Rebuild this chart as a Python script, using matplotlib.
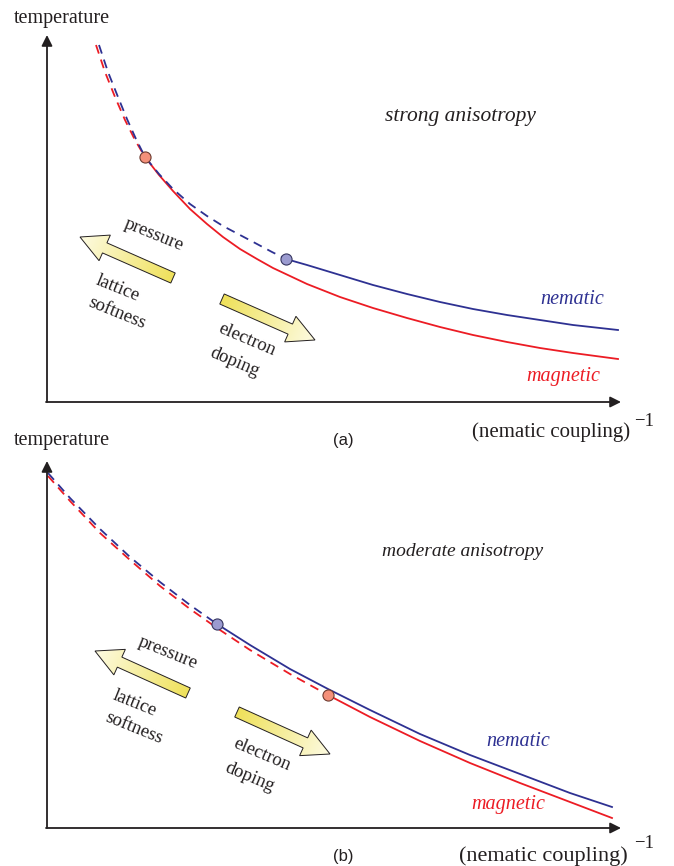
import numpy as np
import matplotlib
matplotlib.use("Agg")
import matplotlib.pyplot as plt
from matplotlib.patches import Polygon
from matplotlib.colors import LinearSegmentedColormap

plt.rcParams['font.family'] = ['Liberation Serif', 'DejaVu Serif']

# ---- data (x = inverse nematic coupling, T = temperature), arbitrary units ----
# panel (a): strong anisotropy
a_mag_x = [50, 59, 69, 79, 89, 99, 113, 127, 144, 161, 177, 194, 211, 227, 244, 261,
           294, 327, 361, 394, 427, 461, 494, 527, 572]
a_mag_T = [357, 330, 305, 282, 262, 245, 227, 211, 193, 178, 165, 153, 143, 134, 126, 118,
           105, 94, 84, 75, 67, 60, 54, 49, 43]
a_nem_x = [53, 62, 72, 81, 90, 99, 113, 127, 144, 161, 177, 194, 211, 226, 240, 261,
           294, 327, 361, 394, 427, 461, 494, 527, 572]
a_nem_T = [357, 330, 305, 283, 263, 245, 228, 213, 198, 186, 176, 167, 158, 150, 143, 137,
           127, 117, 108, 100, 93, 87, 82, 77, 72]
a_mag_dot = (99, 245)     # magnetic transition becomes second order
a_nem_dot = (240, 143)    # nematic transition becomes second order

# panel (b): moderate anisotropy
b_x = [2, 24, 54, 84, 114, 144, 171, 204, 244, 282, 324, 374, 424, 474, 524, 566]
b_nem_T = [355, 330, 299, 271, 246, 223, 204, 183, 159, 139, 118, 94, 73, 54, 35, 21]
b_mag_T = [352, 327, 295, 268, 242, 219, 200, 178, 154, 133, 111, 87, 65, 45, 26, 10]
b_nem_dot = (171, 204)
b_mag_dot = (282, 133)

RED = '#ec1c24'
BLUE = '#2e3192'
INK = '#231f20'


def split_plot(ax, x, T, dot, color):
    x = np.asarray(x); T = np.asarray(T)
    k = int(np.where(x == dot[0])[0][0])
    ax.plot(x[:k + 1], T[:k + 1], color=color, lw=1.3, ls=(0, (5, 3.5)))
    ax.plot(x[k:], T[k:], color=color, lw=1.3)


def fat_arrow(ax, tail, head, w=11, hw=28, hl=27):
    tail = np.array(tail, float); head = np.array(head, float)
    d = head - tail
    L = np.hypot(*d)
    u = d / L
    n = np.array([-u[1], u[0]])
    b = tail + (L - hl) * u
    pts = [tail + w / 2 * n, b + w / 2 * n, b + hw / 2 * n, head,
           b - hw / 2 * n, b - w / 2 * n, tail - w / 2 * n]
    poly = Polygon(pts, closed=True, fc='none', ec=INK, lw=0.7, zorder=4)
    ax.add_patch(poly)
    P = np.array(pts)
    x0, x1 = P[:, 0].min(), P[:, 0].max()
    y0, y1 = P[:, 1].min(), P[:, 1].max()
    X, Y = np.meshgrid(np.linspace(x0, x1, 120), np.linspace(y0, y1, 120))
    t = ((X - tail[0]) * u[0] + (Y - tail[1]) * u[1]) / L
    cmap = LinearSegmentedColormap.from_list('ar', ['#efe15a', '#fdfbe2'])
    im = ax.imshow(t, extent=(x0, x1, y0, y1), origin='lower', cmap=cmap,
                   aspect='auto', vmin=0, vmax=1, zorder=3)
    im.set_clip_path(poly)


def panel(ax, ylim, title_txt, title_xy, title_fs, label, label_y, temp_y,
          xl_x, xl_y, xl_fs, sup_y):
    ax.set_xlim(-46, 628)
    ax.set_ylim(*ylim)
    ax.axis('off')
    arr = dict(arrowstyle='-|>', lw=1.3, color=INK, mutation_scale=16, shrinkA=0, shrinkB=0)
    ax.annotate('', xy=(1, 367), xytext=(1, 0), arrowprops=arr)
    ax.annotate('', xy=(575, 0), xytext=(0, 0), arrowprops=arr)
    ax.text(-32, temp_y, 'temperature', fontsize=14.5, ha='left', va='center', color=INK)
    ax.text(xl_x, xl_y, '(nematic coupling)', fontsize=xl_fs, ha='left', va='center', color=INK)
    ax.text(588, sup_y, '\u22121', fontsize=13.5, ha='left', va='center', color=INK)
    ax.text(297, label_y, label, fontsize=12, ha='center', va='center', color=INK,
            family=['Liberation Sans', 'DejaVu Sans'])
    ax.text(title_xy[0], title_xy[1], title_txt, fontsize=title_fs,
            style='italic', ha='center', va='center', color=INK)


def arrow_labels(ax, p, ls, ed):
    kw = dict(fontsize=13.5, ha='center', va='center', color=INK)
    ax.text(p[0], p[1], 'pressure', rotation=-22, **kw)
    ax.text(ls[0], ls[1], 'lattice', rotation=-22, **kw)
    ax.text(ls[0] - 1, ls[1] - 25, 'softness', rotation=-22, **kw)
    ax.text(ed[0], ed[1], 'electron', rotation=-23, **kw)
    ax.text(ed[0] - 12, ed[1] - 22, 'doping', rotation=-23, **kw)


fig = plt.figure(figsize=(6.74, 8.66), dpi=100)
axa = fig.add_axes([0, 0.5, 1, 0.5])
axb = fig.add_axes([0, 0, 1, 0.5])

# ---------- panel (a) ----------
panel(axa, (-31, 402), 'strong anisotropy', (414, 286), 15.5, '(a)', -39, 384,
      426, -30, 15, -20)
split_plot(axa, a_mag_x, a_mag_T, a_mag_dot, RED)
split_plot(axa, a_nem_x, a_nem_T, a_nem_dot, BLUE)
axa.plot(*a_mag_dot, 'o', ms=8, mfc='#f4907a', mec='#6d3b30', mew=0.8, zorder=5)
axa.plot(*a_nem_dot, 'o', ms=8, mfc='#9b9bd0', mec='#363660', mew=0.8, zorder=5)
axa.text(526, 103, 'nematic', color=BLUE, fontsize=14.5, style='italic', ha='center', va='center')
axa.text(517, 25, 'magnetic', color=RED, fontsize=14.5, style='italic', ha='center', va='center')
fat_arrow(axa, (127, 124), (34, 165))
fat_arrow(axa, (176, 103), (269, 62))
arrow_labels(axa, (108, 167), (72, 114), (201, 62))

# ---------- panel (b) ----------
panel(axb, (-38, 395), 'moderate anisotropy', (417, 276), 14, '(b)', -28, 388,
      413, -28, 16, -15)
split_plot(axb, b_x, b_mag_T, b_mag_dot, RED)
split_plot(axb, b_x, b_nem_T, b_nem_dot, BLUE)
axb.plot(*b_nem_dot, 'o', ms=8, mfc='#9b9bd0', mec='#363660', mew=0.8, zorder=5)
axb.plot(*b_mag_dot, 'o', ms=8, mfc='#f4907a', mec='#6d3b30', mew=0.8, zorder=5)
axb.text(472, 86, 'nematic', color=BLUE, fontsize=14.5, style='italic', ha='center', va='center')
axb.text(462, 23, 'magnetic', color=RED, fontsize=14.5, style='italic', ha='center', va='center')
fat_arrow(axb, (142, 135), (49, 177))
fat_arrow(axb, (191, 116), (284, 74))
arrow_labels(axb, (122, 175), (89, 125), (216, 73))

fig.savefig('out.png', dpi=100)
